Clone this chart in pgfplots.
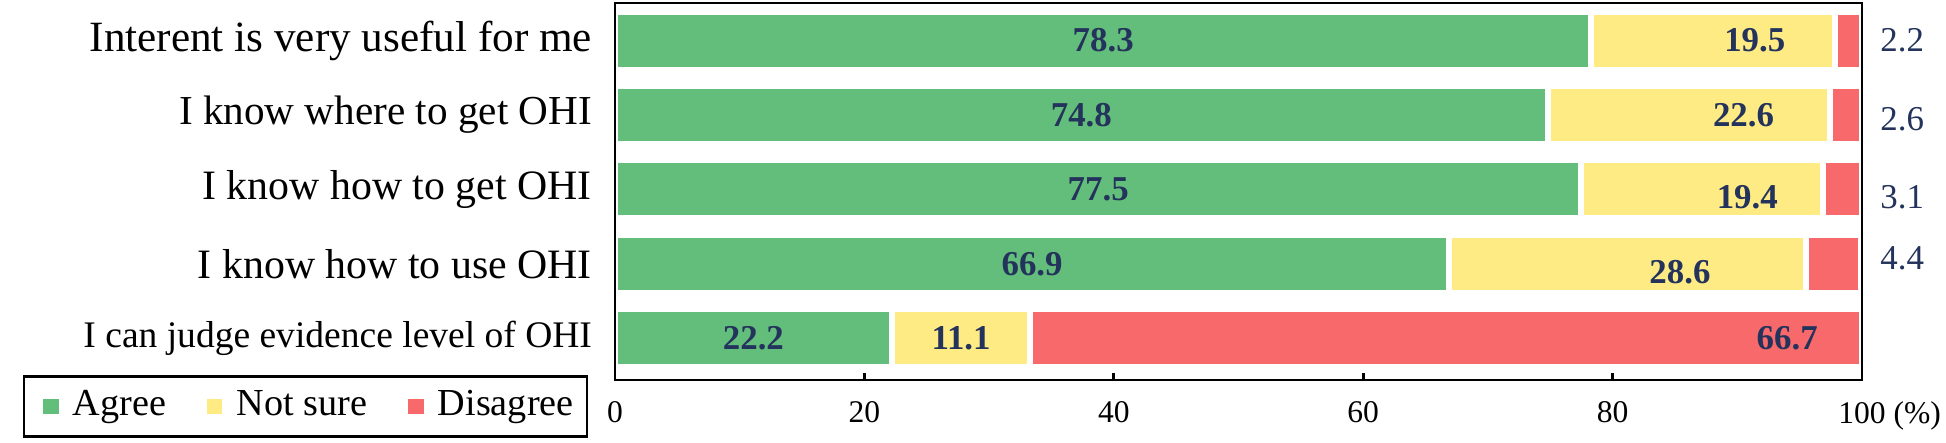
\documentclass[border=0pt]{standalone}
\usepackage{fontspec}
\setmainfont{Liberation Serif}
\usepackage{pgfplots}
\pgfplotsset{compat=1.18}
\usepackage{pgfplotstable}

\definecolor{agree}{HTML}{63BE7B}
\definecolor{notsure}{HTML}{FFEB84}
\definecolor{disagree}{HTML}{F8696B}
\definecolor{lab}{HTML}{24335C}

% shares in percent, row 0 at the top
\pgfplotstableread{
y a b c
0 78.3 19.5 2.2
1 74.8 22.6 2.6
2 77.5 19.4 3.1
3 66.9 28.6 4.4
4 22.2 11.1 66.7
}\survey

% where the labels sit inside the bars
\pgfplotstableread{
x y t
39.15 0 78.3
91.4 0 19.5
37.4 1 74.8
90.5 1 22.6
38.75 2 77.5
90.8 2.11 19.4
33.45 3 66.9
85.4 3.11 28.6
11.1 4 22.2
27.75 4 11.1
94.0 4 66.7
}\inlabels

% small disagree shares, written right of the frame
\pgfplotstableread{
x y t
100 0 2.2
100 1.05 2.6
100 2.1 3.1
100 2.93 4.4
}\outlabels

\pgfplotsset{
  frame/.style={width=374.1bp, height=113.1bp, scale only axis,
    xmin=0, xmax=100, ymin=-0.505, ymax=4.56, y dir=reverse},
  sqlegend/.style={legend image code/.code={\fill[##1] (0bp,-3.2bp) rectangle (6.4bp,3.2bp);}},
}

\begin{document}
\begin{tikzpicture}
\path[use as bounding box] (-184.5bp,-18.6bp) rectangle (399.3bp,114bp);
\begin{axis}[frame,
  xbar stacked, bar width=0.78,
  axis on top,
  axis line style={line width=0.8bp},
  xtick={0,20,40,60,80,100},
  xticklabels={0,20,40,60,80,100\rlap{ (\%)}},
  xtick pos=bottom, tick align=inside,
  major tick length=2.2bp,
  xtick style={line width=0.8bp, black},
  xticklabel style={font=\fontsize{9.5}{11}\selectfont, yshift=-3bp},
  ytick={0,1,2,3,4},
  yticklabels={{\fontsize{13}{15}\selectfont Interent is very useful for me},
    {\fontsize{12.4}{15}\selectfont I know where to get OHI},
    {\fontsize{12.6}{15}\selectfont I know how to get OHI},
    {\fontsize{12.6}{15}\selectfont I know how to use OHI},
    {\fontsize{11.3}{15}\selectfont I can judge evidence level of OHI}},
  ytick style={draw=none},
  yticklabel style={xshift=-3.4bp},
  legend columns=3,
  legend style={at={(0,0)}, anchor=north east, xshift=-8bp, yshift=1.5bp,
    draw=black, line width=0.8bp, font=\fontsize{11.5}{13}\selectfont,
    inner xsep=4bp, inner ysep=3.3bp,
    nodes={inner xsep=0bp, inner ysep=0.5bp, text height=8bp, text depth=2.5bp},
    /tikz/every odd column/.append style={column sep=2.5bp},
    /tikz/every even column/.append style={column sep=10.5bp}},
]
\addplot[fill=agree, draw=white, line width=1.8bp, sqlegend] table[x=a, y=y] {\survey};
\addlegendentry{Agree}
\addplot[fill=notsure, draw=white, line width=1.8bp, sqlegend] table[x=b, y=y] {\survey};
\addlegendentry{Not sure}
\addplot[fill=disagree, draw=white, line width=1.8bp, sqlegend] table[x=c, y=y] {\survey};
\addlegendentry{Disagree}
\end{axis}
\begin{axis}[frame, axis lines=none, clip=false]
\addplot[draw=none, nodes near coords, point meta=explicit symbolic,
  nodes near coords style={anchor=center, text=lab, font=\fontsize{10.5}{12}\selectfont\bfseries}]
  table[x=x, y=y, meta=t] {\inlabels};
\addplot[draw=none, nodes near coords, point meta=explicit symbolic,
  nodes near coords style={anchor=west, xshift=2bp, text=lab, font=\fontsize{10.5}{12}\selectfont}]
  table[x=x, y=y, meta=t] {\outlabels};
\end{axis}
\end{tikzpicture}
\end{document}
